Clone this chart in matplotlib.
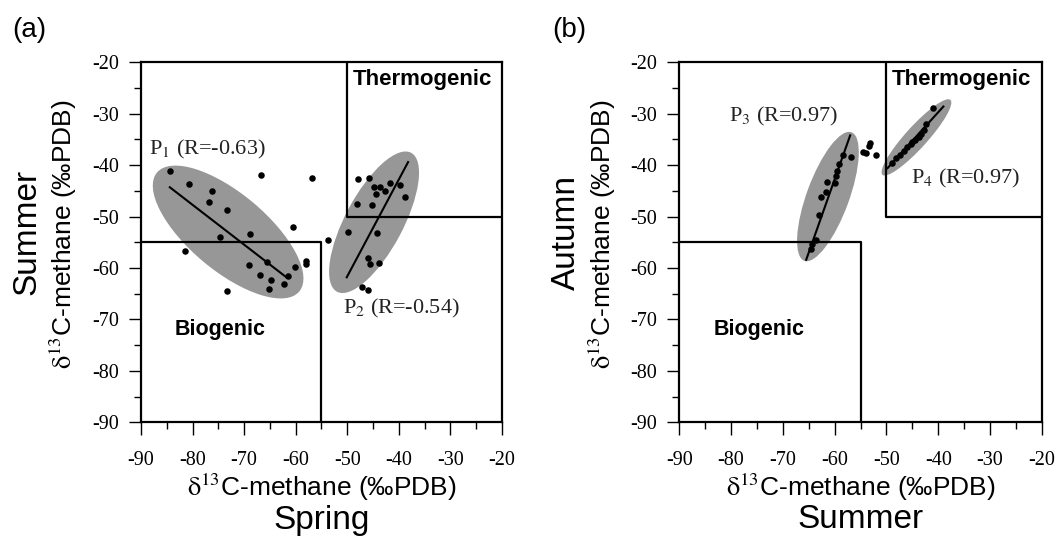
#Methane d13C scatter: spring vs summer (a) and summer vs autumn (b)
import matplotlib.pyplot as plt
from matplotlib.patches import Ellipse
from matplotlib.ticker import MultipleLocator

plt.rcParams['mathtext.fontset'] = 'stix'
plt.rcParams['axes.unicode_minus'] = False

# panel (a): spring (x) vs summer (y)
spring_a = [-84.3, -80.7, -76.2, -76.9, -73.4, -66.8, -56.9, -60.6, -74.7, -68.8, -81.5, -69.1,
            -65.6, -67.0, -64.8, -65.1, -62.3, -61.4, -60.2, -58.0, -58.0, -73.3, -53.7,
            -48.0, -45.8, -44.8, -43.6, -44.4, -42.6, -41.8, -39.8, -38.8, -48.2, -45.2,
            -49.9, -44.2, -46.0, -45.5, -43.8, -47.2, -46.0]
summer_a = [-41.1, -43.7, -45.0, -47.1, -48.8, -42.0, -42.4, -52.0, -53.9, -53.4, -56.6, -59.5,
            -58.9, -61.3, -62.4, -64.1, -63.2, -61.5, -59.8, -58.6, -59.3, -64.4, -54.5,
            -42.6, -42.4, -44.2, -44.3, -45.7, -45.0, -43.5, -43.8, -46.2, -47.5, -47.8,
            -52.9, -53.1, -58.0, -59.3, -59.1, -63.6, -64.3]

# panel (b): summer (x) vs autumn (y)
summer_b = [-56.9, -58.4, -59.1, -59.5, -59.7, -60.0, -61.5, -61.7, -62.6, -63.1, -63.7, -64.4, -64.6,
            -54.6, -53.9, -53.2, -53.4, -52.1,
            -41.1, -42.4, -42.7, -43.8, -44.5, -45.3, -46.0, -46.7, -47.4, -48.1, -49.0, -45.1, -43.3]
autumn_b = [-38.5, -38.1, -39.8, -41.1, -42.1, -43.5, -43.2, -45.3, -46.2, -49.7, -54.5, -55.4, -56.3,
            -37.4, -37.7, -35.7, -36.3, -38.0,
            -28.8, -32.0, -33.2, -34.6, -35.2, -35.9, -36.4, -37.2, -38.0, -38.6, -39.5, -35.5, -33.9]

# regression line end points
fit_a = {"P1": ([-84.4, -61.8], [-44.3, -61.8]), "P2": ([-50.1, -38.2], [-61.8, -39.4])}
fit_b = {"P3": ([-65.5, -57.0], [-58.4, -34.2]), "P4": ([-49.8, -39.0], [-40.6, -28.6])}

# group ellipses: centre x, centre y, width, height, angle
ell_a = [(-73.1, -53.0, 36.0, 15.0, -40), (-44.8, -51.1, 30.6, 11.2, 62)]
ell_b = [(-61.3, -46.1, 26.6, 8.2, 70), (-44.2, -34.6, 19.6, 4.2, 48)]

labels_a = [("P$_{1}$ (R=-0.63)", -88.4, -37.0), ("P$_{2}$ (R=-0.54)", -50.8, -67.8)]
labels_b = [("P$_{3}$ (R=0.97)", -80.5, -30.6), ("P$_{4}$ (R=0.97)", -45.3, -42.6)]

# source zone boxes
biogenic = ([-90, -55, -55], [-55, -55, -90])
thermogenic = ([-50, -50, -20], [-20, -50, -50])

ticks = [-90, -80, -70, -60, -50, -40, -30, -20]

fig = plt.figure(figsize=(10.59, 5.39), dpi=100)
ax1 = fig.add_axes([0.1331, 0.2165, 0.3409, 0.6679])
ax2 = fig.add_axes([0.6415, 0.2165, 0.3422, 0.6679])

panels = [(ax1, spring_a, summer_a, fit_a, ell_a, labels_a),
          (ax2, summer_b, autumn_b, fit_b, ell_b, labels_b)]

for ax, xs, ys, fits, ells, labs in panels:
    for cx, cy, w, h, ang in ells:
        ax.add_patch(Ellipse((cx, cy), w, h, angle=ang, facecolor='#979797', edgecolor='none', zorder=1))
    ax.plot(biogenic[0], biogenic[1], color='black', lw=1.6, zorder=2)
    ax.plot(thermogenic[0], thermogenic[1], color='black', lw=1.6, zorder=2)
    for fx, fy in fits.values():
        ax.plot(fx, fy, color='black', lw=1.5, zorder=3)
    ax.scatter(xs, ys, s=22, color='black', zorder=4, linewidths=0)
    for txt, tx, ty in labs:
        ax.text(tx, ty, txt, fontsize=16, family='Liberation Serif', va='center', ha='left', color='#222222')
    ax.text(-49.0, -23.3, "Thermogenic", fontsize=16, weight='bold', family='Liberation Sans', va='center')
    ax.text(-83.4, -72.0, "Biogenic", fontsize=15.5, weight='bold', family='Liberation Sans', va='center')

    ax.set_xlim(-90, -20)
    ax.set_ylim(-90, -20)
    ax.set_xticks(ticks)
    ax.set_yticks(ticks)
    ax.xaxis.set_minor_locator(MultipleLocator(5))
    ax.yaxis.set_minor_locator(MultipleLocator(5))
    ax.tick_params(which='major', direction='out', length=9, width=1.0, top=False, right=False)
    ax.tick_params(which='minor', direction='out', length=5, width=1.0, top=False, right=False)
    ax.tick_params(axis='x', which='major', pad=12)
    ax.tick_params(axis='y', which='major', pad=7)
    for lab in ax.get_xticklabels() + ax.get_yticklabels():
        lab.set_family('Liberation Serif')
        lab.set_fontsize(14.5)
    for sp in ax.spines.values():
        sp.set_linewidth(1.6)

dlabel = r"$\mathrm{δ}^{13}$C-methane (‰PDB)"
# x labels
fig.text(0.3036, 1 - 487 / 539, dlabel, fontsize=19, family='Liberation Sans', ha='center', va='center')
fig.text(0.3036, 1 - 520 / 539, "Spring", fontsize=24, family='Liberation Sans', ha='center', va='center')
fig.text(0.8126, 1 - 487 / 539, dlabel, fontsize=19, family='Liberation Sans', ha='center', va='center')
fig.text(0.8126, 1 - 520 / 539, "Summer", fontsize=24, family='Liberation Sans', ha='center', va='center')
# y labels
fig.text(27 / 1059, 1 - 232 / 539, "Summer", fontsize=24, family='Liberation Sans', rotation=90, ha='center', va='center')
fig.text(63 / 1059, 1 - 234 / 539, dlabel, fontsize=19, family='Liberation Sans', rotation=90, ha='center', va='center')
fig.text(566 / 1059, 1 - 232 / 539, "Autumn", fontsize=24, family='Liberation Sans', rotation=90, ha='center', va='center')
fig.text(602 / 1059, 1 - 234 / 539, dlabel, fontsize=19, family='Liberation Sans', rotation=90, ha='center', va='center')
# panel tags
fig.text(12 / 1059, 1 - 30 / 539, "(a)", fontsize=20, family='Liberation Sans', va='center')
fig.text(552 / 1059, 1 - 30 / 539, "(b)", fontsize=20, family='Liberation Sans', va='center')

plt.savefig("out.png", dpi=100)
